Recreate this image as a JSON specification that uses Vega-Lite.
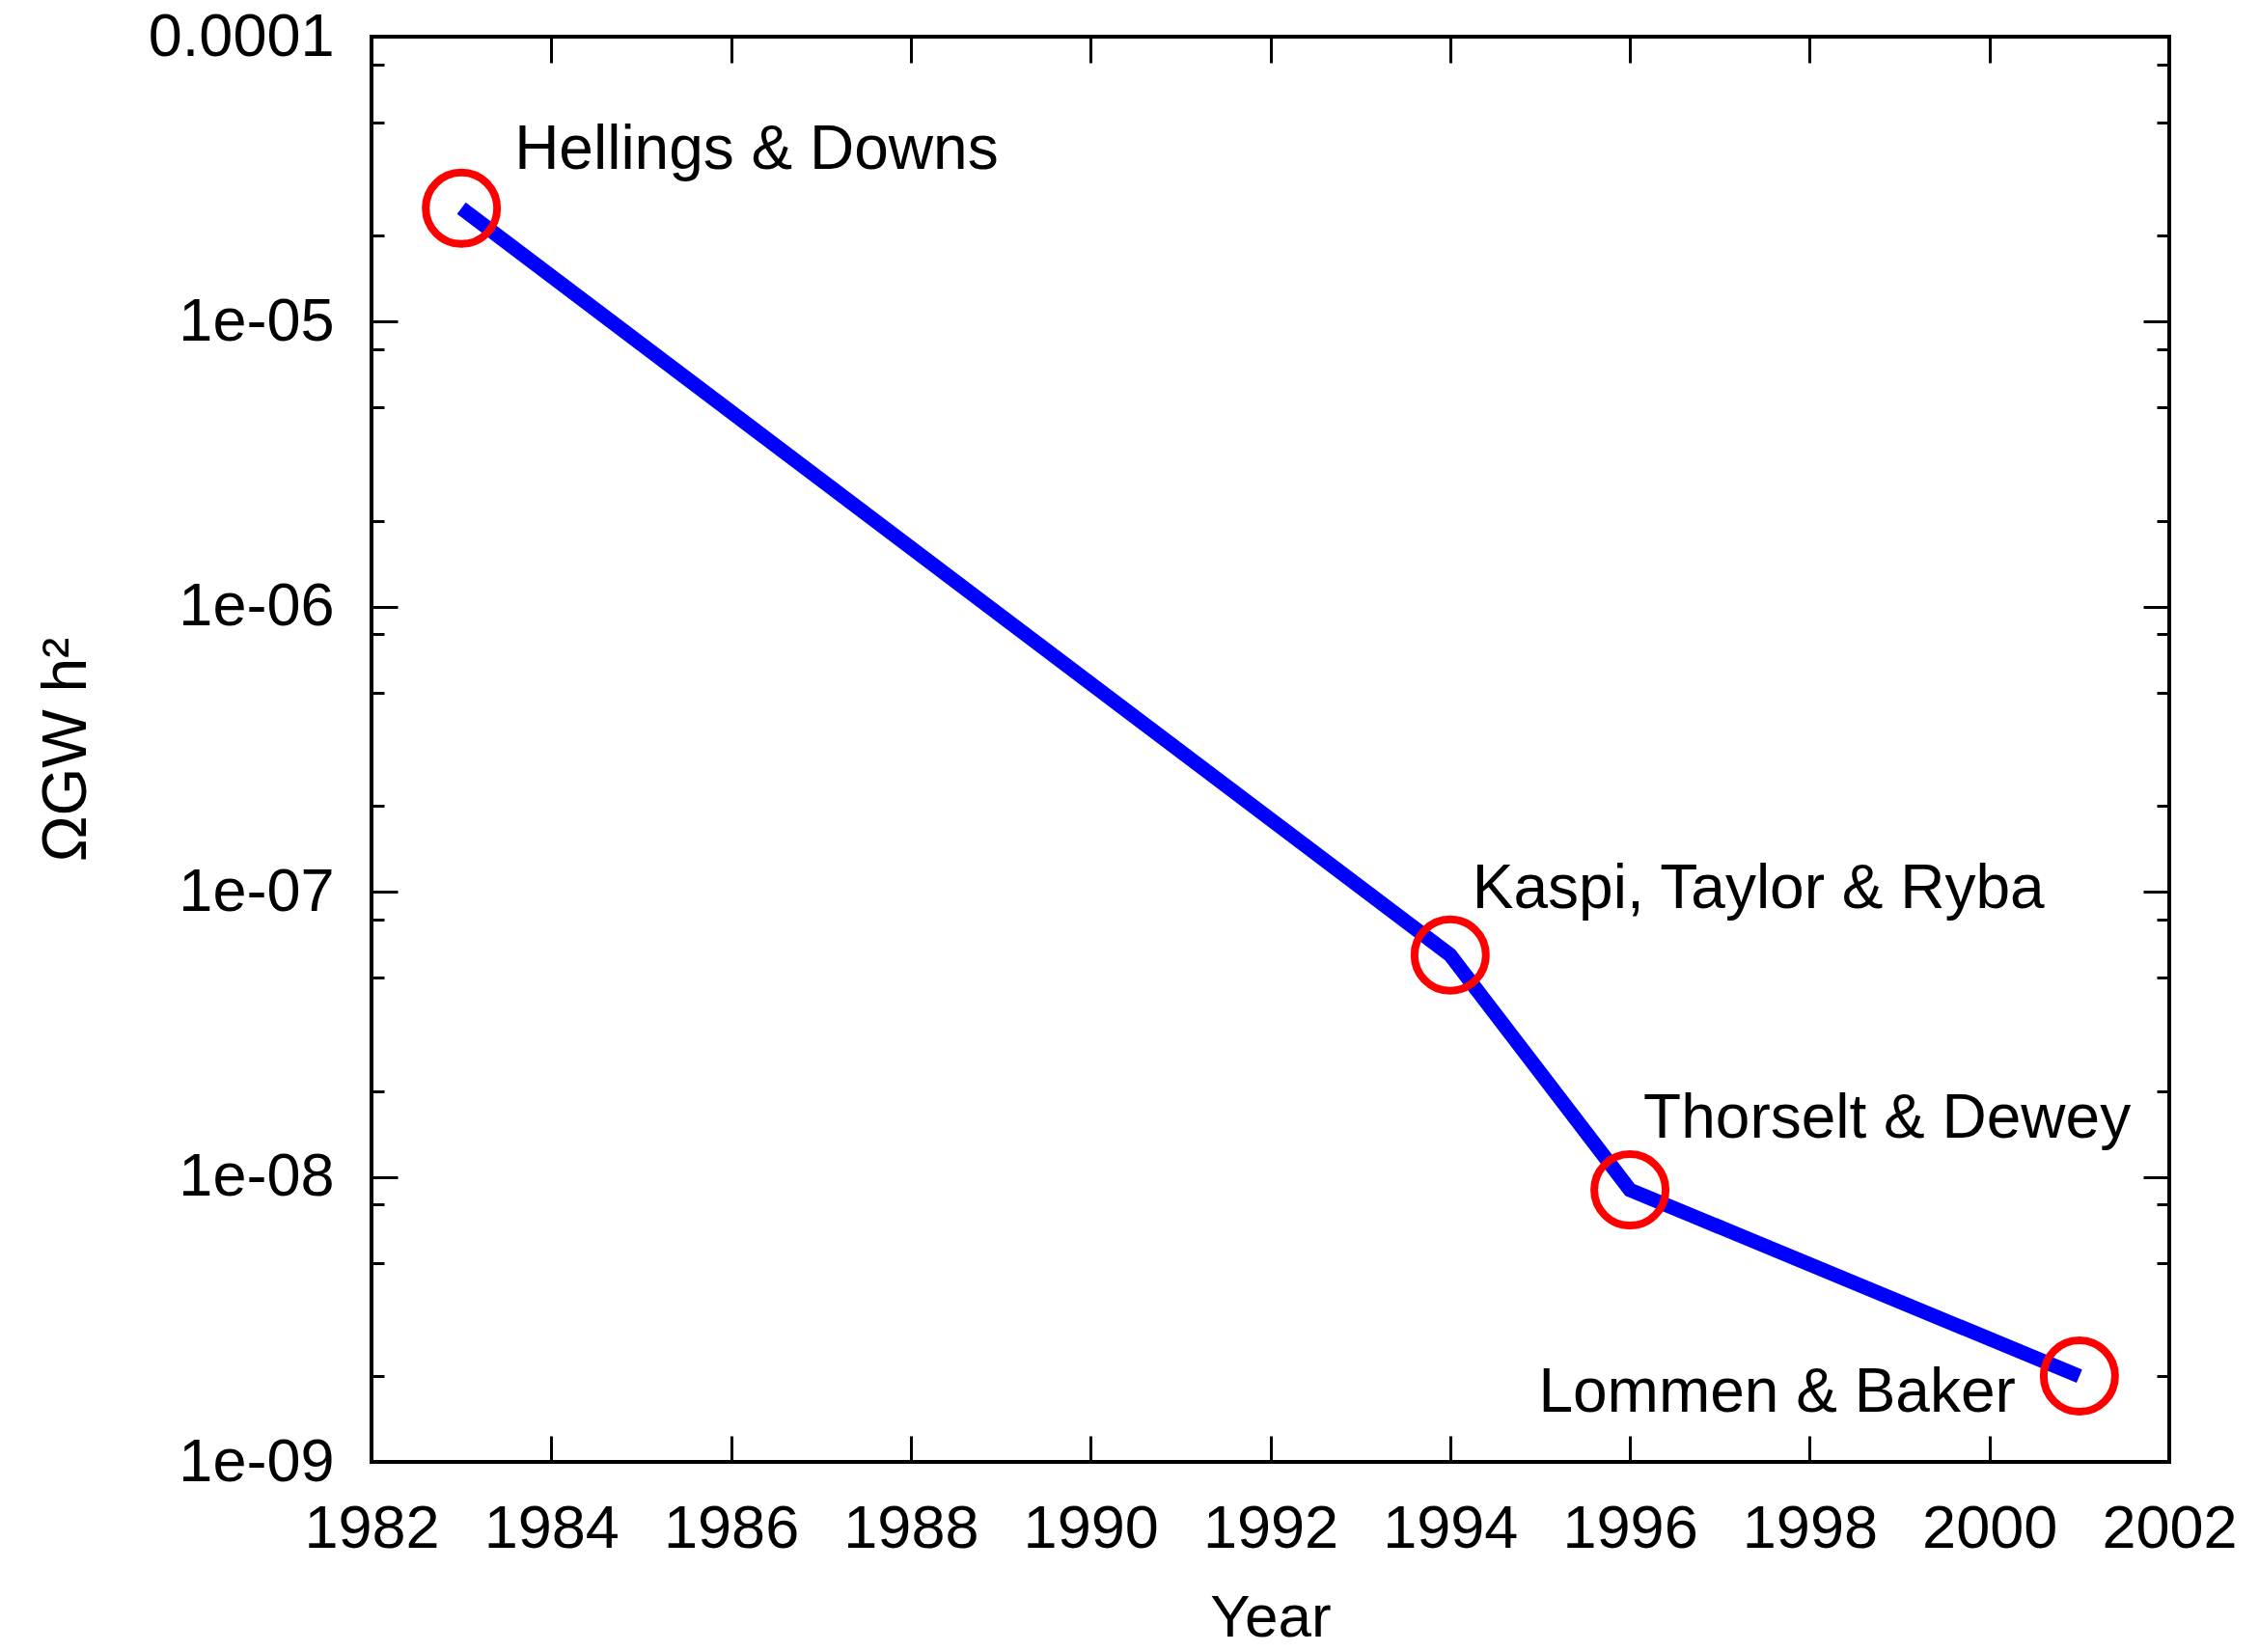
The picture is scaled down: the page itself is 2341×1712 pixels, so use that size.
{
  "$schema": "https://vega.github.io/schema/vega-lite/v6.json",
  "width": 1863,
  "height": 1477,
  "autosize": "none",
  "padding": {"left": 385, "top": 38, "right": 93, "bottom": 197},
  "background": "white",
  "config": {
    "view": {"stroke": "black", "strokeWidth": 4},
    "font": "Liberation Sans",
    "axis": {
      "domain": false,
      "grid": false,
      "labelFont": "Liberation Sans",
      "labelFontSize": 63,
      "labelColor": "black",
      "labelLimit": 0,
      "titleFont": "Liberation Sans",
      "titleFontSize": 62,
      "titleFontWeight": "normal",
      "titleColor": "black",
      "tickColor": "black",
      "tickWidth": 3
    }
  },
  "data": {
    "values": [
      {"year": 1983, "omega": 2.5e-5, "survey": "Hellings & Downs"},
      {"year": 1994, "omega": 6e-8, "survey": "Kaspi, Taylor & Ryba"},
      {"year": 1996, "omega": 9e-9, "survey": "Thorselt & Dewey"},
      {"year": 2001, "omega": 2e-9, "survey": "Lommen & Baker"}
    ]
  },
  "resolve": {"axis": {"x": "independent", "y": "independent"}},
  "layer": [
    {
      "mark": {"type": "line", "color": "#0000ff", "strokeWidth": 15, "strokeCap": "butt", "strokeJoin": "miter"},
      "encoding": {
        "x": {
          "field": "year", "type": "quantitative",
          "scale": {"domain": [1982, 2002], "nice": false, "zero": false},
          "axis": {
            "orient": "bottom",
            "values": [1982, 1984, 1986, 1988, 1990, 1992, 1994, 1996, 1998, 2000, 2002],
            "format": "d",
            "tickSize": -27,
            "labelPadding": 65,
            "labelFlush": false,
            "labelOverlap": false,
            "title": "Year",
            "titlePadding": 30
          }
        },
        "y": {
          "field": "omega", "type": "quantitative",
          "scale": {"type": "log", "domain": [1e-9, 1e-4], "nice": false},
          "axis": {
            "orient": "left",
            "values": [1e-9, 2e-9, 5e-9, 8e-9, 1e-8, 2e-8, 5e-8, 8e-8, 1e-7, 2e-7, 5e-7, 8e-7, 1e-6, 2e-6, 5e-6, 8e-6, 1e-5, 2e-5, 5e-5, 8e-5, 1e-4],
            "labelExpr": "abs(log(datum.value)/LN10 - round(log(datum.value)/LN10)) > 0.01 ? '' : (datum.value > 5e-5 ? '0.0001' : '1e-0' + (-round(log(datum.value)/LN10)))",
            "tickSize": {"condition": {"test": "abs(log(datum.value)/LN10 - round(log(datum.value)/LN10)) > 0.01", "value": -13}, "value": -27},
            "labelPadding": 66,
            "labelFlush": false,
            "labelOverlap": false,
            "title": "ΩGW h²",
            "titleFontSize": 64,
            "titlePadding": 84
          }
        }
      }
    },
    {
      "mark": {"type": "point", "shape": "circle", "filled": false, "stroke": "#ff0000", "strokeWidth": 8, "size": 5476, "opacity": 1},
      "encoding": {
        "x": {
          "field": "year", "type": "quantitative",
          "scale": {"domain": [1982, 2002], "nice": false, "zero": false},
          "axis": {
            "orient": "top",
            "values": [1982, 1984, 1986, 1988, 1990, 1992, 1994, 1996, 1998, 2000, 2002],
            "labels": false,
            "tickSize": -27,
            "title": null
          }
        },
        "y": {
          "field": "omega", "type": "quantitative",
          "scale": {"type": "log", "domain": [1e-9, 1e-4], "nice": false},
          "axis": {
            "orient": "right",
            "values": [1e-9, 2e-9, 5e-9, 8e-9, 1e-8, 2e-8, 5e-8, 8e-8, 1e-7, 2e-7, 5e-7, 8e-7, 1e-6, 2e-6, 5e-6, 8e-6, 1e-5, 2e-5, 5e-5, 8e-5, 1e-4],
            "labels": false,
            "tickSize": {"condition": {"test": "abs(log(datum.value)/LN10 - round(log(datum.value)/LN10)) > 0.01", "value": -13}, "value": -27},
            "title": null
          }
        }
      }
    },
    {
      "transform": [{"filter": "datum.survey === 'Hellings & Downs'"}],
      "mark": {"type": "text", "align": "left", "baseline": "alphabetic", "dx": 55, "dy": -41, "fontSize": 64, "font": "Liberation Sans", "color": "black"},
      "encoding": {
        "x": {"field": "year", "type": "quantitative", "axis": null},
        "y": {"field": "omega", "type": "quantitative", "axis": null},
        "text": {"field": "survey"}
      }
    },
    {
      "transform": [{"filter": "datum.survey === 'Kaspi, Taylor & Ryba'"}],
      "mark": {"type": "text", "align": "left", "baseline": "alphabetic", "dx": 23, "dy": -49, "fontSize": 64, "font": "Liberation Sans", "color": "black"},
      "encoding": {
        "x": {"field": "year", "type": "quantitative", "axis": null},
        "y": {"field": "omega", "type": "quantitative", "axis": null},
        "text": {"field": "survey"}
      }
    },
    {
      "transform": [{"filter": "datum.survey === 'Thorselt & Dewey'"}],
      "mark": {"type": "text", "align": "left", "baseline": "alphabetic", "dx": 14, "dy": -54, "fontSize": 64, "font": "Liberation Sans", "color": "black"},
      "encoding": {
        "x": {"field": "year", "type": "quantitative", "axis": null},
        "y": {"field": "omega", "type": "quantitative", "axis": null},
        "text": {"field": "survey"}
      }
    },
    {
      "transform": [{"filter": "datum.survey === 'Lommen & Baker'"}],
      "mark": {"type": "text", "align": "right", "baseline": "alphabetic", "dx": -66, "dy": 37, "fontSize": 64, "font": "Liberation Sans", "color": "black"},
      "encoding": {
        "x": {"field": "year", "type": "quantitative", "axis": null},
        "y": {"field": "omega", "type": "quantitative", "axis": null},
        "text": {"field": "survey"}
      }
    }
  ]
}
